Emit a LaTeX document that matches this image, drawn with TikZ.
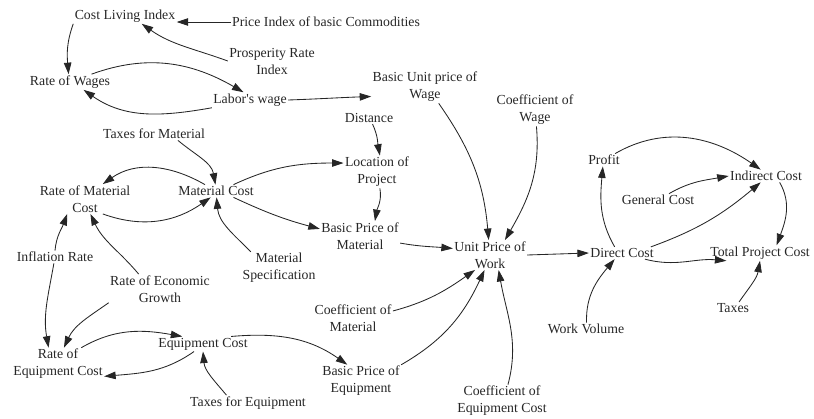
\documentclass[tikz,border=0pt]{standalone}
\usepackage{fontspec}
\setmainfont{Liberation Serif}
\usetikzlibrary{arrows.meta}
\begin{document}
\begin{tikzpicture}[x=1pt,y=1pt,
  var/.style={inner sep=0pt, outer sep=1.5pt, align=center,
    font=\fontsize{13.8}{17}\selectfont, text=black!85},
  link/.style={draw=black!85, line width=0.85pt,
    -{Triangle[length=11.5pt,width=7.5pt]}},
]
\useasboundingbox (0,0) rectangle (814,-418);

% variables of the causal loop model
\node[var] (cli)  at (125,-16)  {Cost Living Index};
\node[var] (pic)  at (326,-22)  {Price Index of basic Commodities};
\node[var] (pros) at (272,-61)  {Prosperity Rate\\Index};
\node[var] (rw)   at (70,-82)   {Rate of Wages};
\node[var] (lw)   at (250,-100) {Labor\textquotesingle s wage};
\node[var] (bupw) at (425,-87)  {Basic Unit price of\\Wage};
\node[var] (dist) at (369,-118) {Distance};
\node[var] (cow)  at (535,-110) {Coefficient of\\Wage};
\node[var] (taxm) at (154,-134) {Taxes for Material};
\node[var] (loc)  at (377,-172) {Location of\\Project};
\node[var] (rmc)  at (85,-199)  {Rate of Material\\Cost};
\node[var] (mc)   at (216,-191) {Material Cost};
\node[var] (bpm)  at (360,-236) {Basic Price of\\Material};
\node[var] (ms)   at (279,-268) {Material\\Specification};
\node[var] (infl) at (55,-257)  {Inflation Rate};
\node[var] (reg)  at (160,-289) {Rate of Economic\\Growth};
\node[var] (upw)  at (490,-255) {Unit Price of\\Work};
\node[var] (dc)   at (622,-253) {Direct Cost};
\node[var] (tpc)  at (760,-253) {Total Project Cost};
\node[var] (prof) at (604,-160) {Profit};
\node[var] (ic)   at (766,-176) {Indirect Cost};
\node[var] (gc)   at (658,-200) {General Cost};
\node[var] (tax)  at (733,-308) {Taxes};
\node[var] (wv)   at (586,-329) {Work Volume};
\node[var] (com)  at (353,-318) {Coefficient of\\Material};
\node[var] (reqc) at (58,-364)  {Rate of\\Equipment Cost};
\node[var] (eqc)  at (203,-344) {Equipment Cost};
\node[var] (bpe)  at (361,-381) {Basic Price of\\Equipment};
\node[var] (taxe) at (248,-403) {Taxes for Equipment};
\node[var] (coeq) at (502,-401) {Coefficient of\\Equipment Cost};

% wage sub-model
\draw[link] (pic.west) -- (cli.east |- pic.west);
\draw[link] (pros.west) to[out=160,in=-35] (cli.-25);
\draw[link] (cli.south west) to[out=250,in=95] (rw.100);
\draw[link] (rw.20) to[out=20,in=150] (lw.130);
\draw[link] (lw.south west) to[out=190,in=-35] (rw.-30);
\draw[link] (lw.east) to[out=2,in=182] (bupw.190);

% material sub-model
\draw[link] (dist.-60) to[out=-65,in=100] (loc.80);
\draw[link] (taxm.-15) to[out=-40,in=100] (mc.95);
\draw[link] (mc.150) to[out=150,in=35] (rmc.40);
\draw[link] (rmc.-40) to[out=-20,in=215] (mc.-130);
\draw[link] (mc.20) to[out=25,in=180] (loc.165);
\draw[link] (mc.-20) to[out=-25,in=165] (bpm.170);
\draw[link] (loc.-80) to[out=-80,in=80] (bpm.45);
\draw[link] (ms.150) to[out=135,in=-85] (mc.-85);
\draw[link] (infl.north) to[out=85,in=-110] (rmc.-140);
\draw[link] (reg.145) to[out=130,in=-65] (rmc.-70);

% equipment sub-model
\draw[link] (infl.-100) to[out=-100,in=100] (reqc.120);
\draw[link] (reg.-165) to[out=-145,in=65] (reqc.70);
\draw[link] (reqc.35) to[out=30,in=170] (eqc.160);
\draw[link] (eqc.-140) to[out=-145,in=5] (reqc.-15);
\draw[link] (taxe.160) to[out=130,in=-85] (eqc.-90);
\draw[link] (eqc.15) to[out=5,in=145] (bpe.130);

% unit price of work
\draw[link] (bpe.22) to[out=30,in=-115] (upw.-110);
\draw[link] (com.10) to[out=15,in=-145] (upw.-135);
\draw[link] (coeq.70) to[out=75,in=-80] (upw.-60);
\draw[link] (bpm.-10) to[out=-10,in=175] (upw.170);
\draw[link] (bupw.-50) to[out=-55,in=95] (upw.95);
\draw[link] (cow.-85) to[out=-85,in=60] (upw.45);
\draw[link] (upw.east) -- (dc.west);

% project cost
\draw[link] (dc.140) to[out=120,in=-95] (prof.-100);
\draw[link] (prof.30) to[out=30,in=145] (ic.130);
\draw[link] (gc.30) to[out=30,in=190] (ic.180);
\draw[link] (dc.12) to[out=20,in=-140] (ic.-130);
\draw[link] (ic.-25) to[out=-60,in=70] (tpc.25);
\draw[link] (dc.-15) to[out=-15,in=175] (tpc.-167);
\draw[link] (tax.45) to[out=55,in=-100] (tpc.-90);
\draw[link] (wv.85) to[out=92,in=-130] (dc.-140);
\end{tikzpicture}
\end{document}
